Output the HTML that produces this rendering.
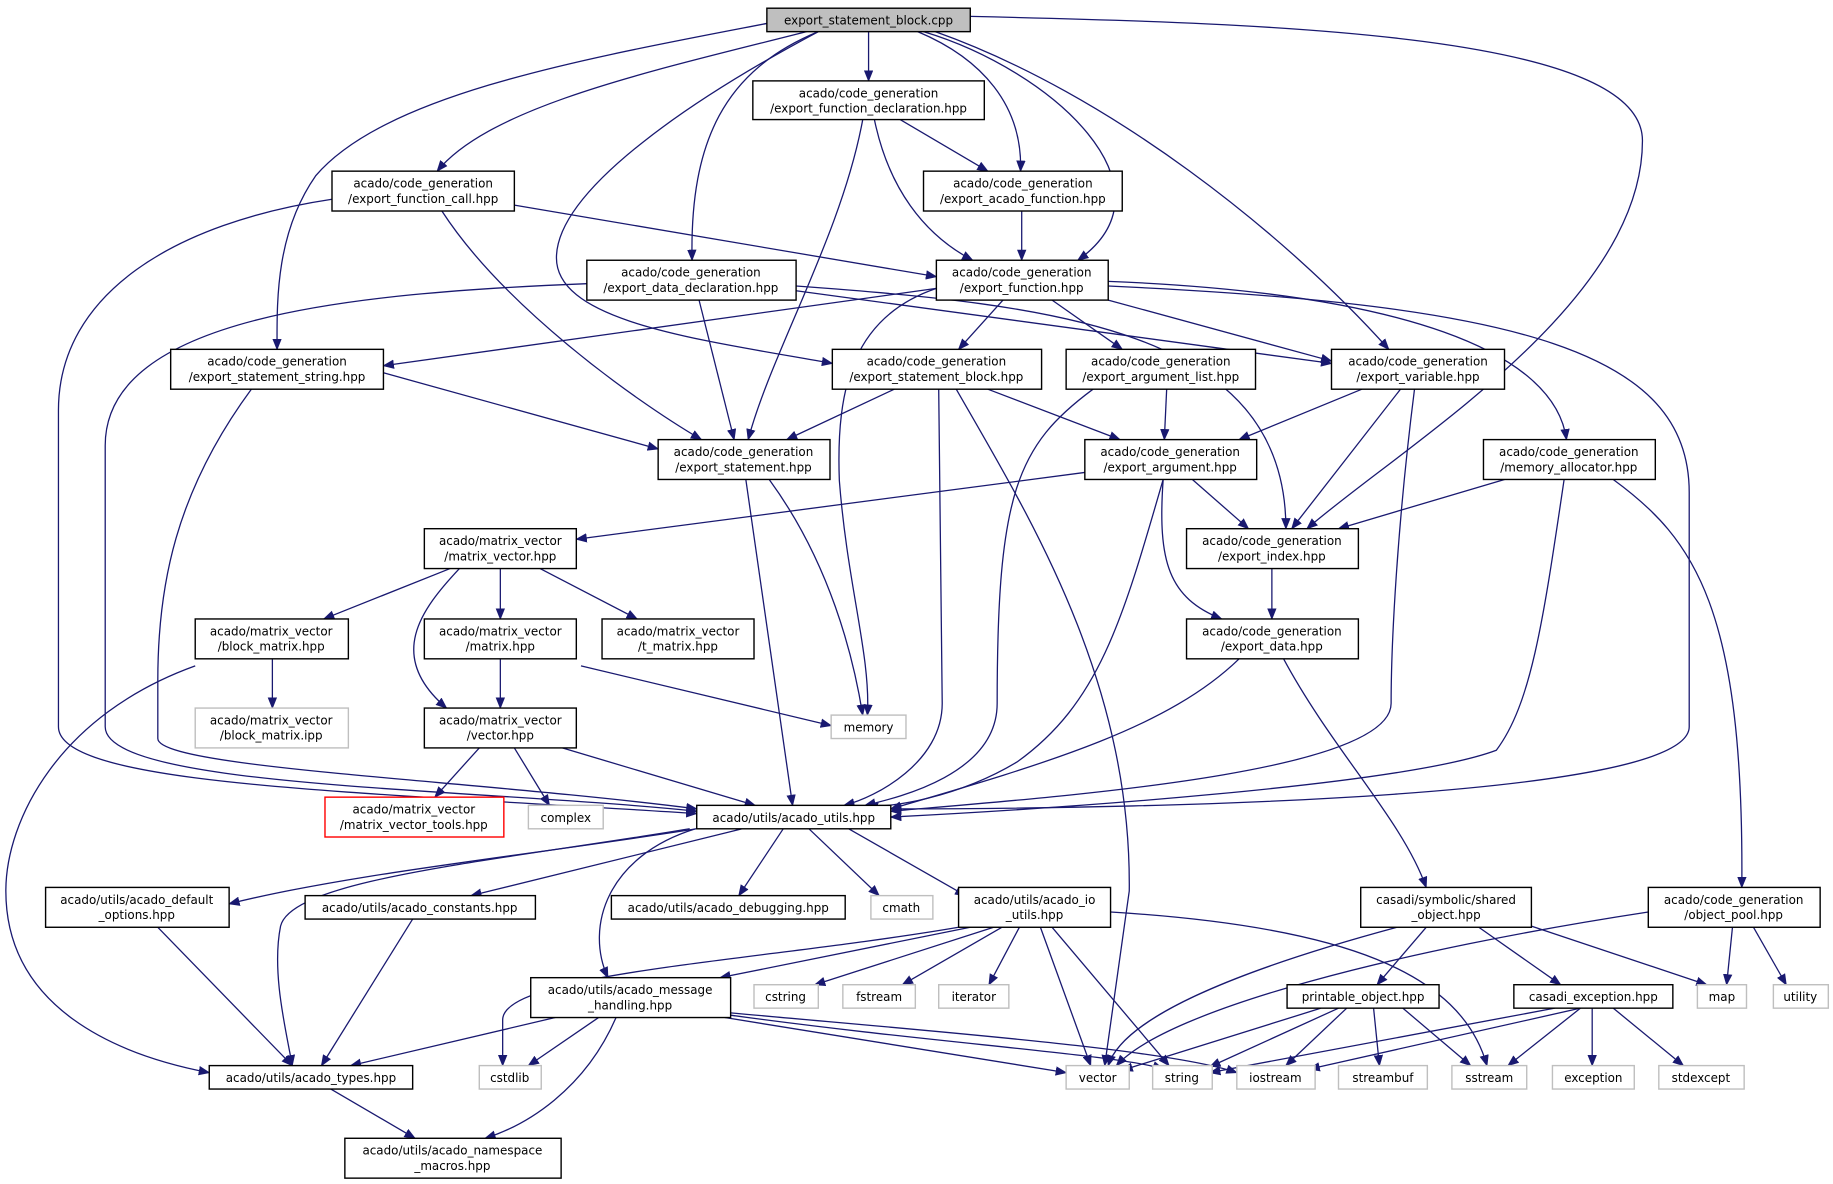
<!DOCTYPE html>
<html><head><meta charset="utf-8"><style>
html,body{margin:0;padding:0;background:#fff;}
svg{display:block;}
text{font-family:"DejaVu Sans","Liberation Sans",sans-serif;font-size:10.2px;fill:#000;text-anchor:middle;}
.e{fill:none;stroke:#191970;stroke-width:1.1;marker-end:url(#a);}
.n{fill:#fff;stroke:#000;stroke-width:1.2;}
.g{fill:#fff;stroke:#bfbfbf;stroke-width:1.2;}
</style></head><body>
<svg width="1833" height="1184" viewBox="0 0 1568 1010" preserveAspectRatio="none" xmlns="http://www.w3.org/2000/svg">
<defs><marker id="a" markerWidth="10" markerHeight="8" refX="9" refY="4" orient="auto" markerUnits="userSpaceOnUse"><path d="M0,0 L10,4 L0,8 z" fill="#191970"/></marker></defs>
<g>
<path class="e" d="M743,27 L743,69"/>
<path class="e" d="M785,27 C840,50 875,90 873,146"/>
<path class="e" d="M790,27 C900,60 1010,160 922,222"/>
<path class="e" d="M748,102 C760,160 790,200 832,222"/>
<path class="e" d="M800,27 C950,80 1100,200 1188,298"/>
<path class="e" d="M830,14 C1100,20 1405,30 1405,120 C1405,260 1200,380 1118,451"/>
<path class="e" d="M690,27 C560,60 420,90 374,146"/>
<path class="e" d="M656,20 C500,50 330,80 270,150 C235,200 237,260 237,298"/>
<path class="e" d="M700,27 C620,60 590,120 592,222"/>
<path class="e" d="M700,27 C600,80 476,160 476,220 C476,275 600,290 712,310"/>
<path class="e" d="M770,102 L845,146"/>
<path class="e" d="M738,102 C720,200 660,300 640,375"/>
<path class="e" d="M440,175 L801,236"/>
<path class="e" d="M378,180 C430,260 540,340 600,375"/>
<path class="e" d="M874,180 L874,222"/>
<path class="e" d="M502,242 C300,250 90,270 90,380 L90,620 C90,672 400,672 596,692"/>
<path class="e" d="M598,256 L628,375"/>
<path class="e" d="M681,248 L1139,310"/>
<path class="e" d="M681,244 C900,260 1100,280 1100,451"/>
<path class="e" d="M801,246 L328,312"/>
<path class="e" d="M801,246 C730,270 715,330 718,410 C725,500 745,560 742,610"/>
<path class="e" d="M858,256 L820,298"/>
<path class="e" d="M900,256 L960,298"/>
<path class="e" d="M948,256 L1139,308"/>
<path class="e" d="M948,240 C1200,250 1330,300 1340,375"/>
<path class="e" d="M948,244 C1300,260 1445,300 1445,420 L1445,620 C1445,680 1000,690 762,690"/>
<path class="e" d="M328,318 L563,383"/>
<path class="e" d="M284,170 C150,190 50,250 50,350 L50,620 C50,670 300,675 596,694"/>
<path class="e" d="M215,332 C150,420 135,500 135,580 L135,630 C135,655 400,665 596,690"/>
<path class="e" d="M765,332 L673,375"/>
<path class="e" d="M845,332 L958,375"/>
<path class="e" d="M803,332 L806,600 C806,650 750,680 722,687"/>
<path class="e" d="M818,332 C880,440 968,580 966,760 L945,909"/>
<path class="e" d="M998,332 L996,375"/>
<path class="e" d="M935,332 C870,380 853,420 853,600 C853,660 770,680 740,687"/>
<path class="e" d="M1165,332 L1060,375"/>
<path class="e" d="M1198,332 L1105,451"/>
<path class="e" d="M1210,332 C1195,450 1190,550 1190,600 C1190,660 900,680 762,692"/>
<path class="e" d="M638,409 L678,687"/>
<path class="e" d="M658,409 C710,480 730,560 738,610"/>
<path class="e" d="M928,403 L493,460"/>
<path class="e" d="M1020,409 L1068,451"/>
<path class="e" d="M995,409 C990,480 1000,510 1045,528"/>
<path class="e" d="M995,409 C960,530 940,600 870,650 C820,680 760,690 742,687"/>
<path class="e" d="M1287,409 L1145,451"/>
<path class="e" d="M1338,409 C1320,530 1310,600 1280,640 C1200,670 900,690 762,697"/>
<path class="e" d="M1380,409 C1450,460 1492,520 1490,757"/>
<path class="e" d="M385,485 L277,528"/>
<path class="e" d="M428,485 L428,528"/>
<path class="e" d="M462,485 L545,528"/>
<path class="e" d="M393,485 C360,520 330,560 382,604"/>
<path class="e" d="M1088,485 L1088,528"/>
<path class="e" d="M233,562 L233,604"/>
<path class="e" d="M167,568 C50,610 5,700 5,760 C5,860 100,900 179,915"/>
<path class="e" d="M497,568 L711,619"/>
<path class="e" d="M428,562 L428,604"/>
<path class="e" d="M1060,562 C1000,620 900,650 762,690"/>
<path class="e" d="M1098,562 C1140,640 1200,700 1220,757"/>
<path class="e" d="M410,638 L372,680"/>
<path class="e" d="M440,638 L470,687"/>
<path class="e" d="M481,638 L646,687"/>
<path class="e" d="M596,707 C450,730 300,745 196,771"/>
<path class="e" d="M635,707 L403,764"/>
<path class="e" d="M670,707 L632,764"/>
<path class="e" d="M692,707 L752,764"/>
<path class="e" d="M726,707 L826,764"/>
<path class="e" d="M595,707 C520,730 500,790 520,834"/>
<path class="e" d="M590,707 C420,735 250,750 240,790 C232,830 245,880 250,909"/>
<path class="e" d="M135,791 L250,909"/>
<path class="e" d="M353,784 L275,909"/>
<path class="e" d="M830,791 L616,834"/>
<path class="e" d="M820,791 C650,820 430,830 430,870 L430,909"/>
<path class="e" d="M850,791 L697,840"/>
<path class="e" d="M857,791 L772,840"/>
<path class="e" d="M872,791 L846,840"/>
<path class="e" d="M890,791 L933,909"/>
<path class="e" d="M900,791 L1000,909"/>
<path class="e" d="M950,778 C1150,790 1250,830 1272,909"/>
<path class="e" d="M1195,791 C1050,830 960,870 948,909"/>
<path class="e" d="M1220,791 L1178,840"/>
<path class="e" d="M1265,791 L1335,840"/>
<path class="e" d="M1310,790 L1460,840"/>
<path class="e" d="M1410,778 C1200,810 1000,860 955,909"/>
<path class="e" d="M1482,791 L1477,840"/>
<path class="e" d="M1500,791 L1528,840"/>
<path class="e" d="M475,868 L300,909"/>
<path class="e" d="M512,868 L452,909"/>
<path class="e" d="M527,868 C500,930 450,960 415,971"/>
<path class="e" d="M620,868 L912,915"/>
<path class="e" d="M625,866 C800,890 960,900 995,912"/>
<path class="e" d="M625,864 C800,880 1000,895 1058,915"/>
<path class="e" d="M1130,860 L960,913"/>
<path class="e" d="M1145,860 L1035,910"/>
<path class="e" d="M1152,860 L1100,909"/>
<path class="e" d="M1175,860 L1180,909"/>
<path class="e" d="M1200,860 L1258,909"/>
<path class="e" d="M1330,860 L1035,915"/>
<path class="e" d="M1352,860 L1120,912"/>
<path class="e" d="M1352,860 L1290,909"/>
<path class="e" d="M1362,860 L1362,909"/>
<path class="e" d="M1380,860 L1440,909"/>
<path class="e" d="M283,929 L355,971"/>
</g>
<g>
<rect x="656" y="7" width="174" height="20" fill="#bfbfbf" stroke="#000" stroke-width="1.2"/><text x="743" y="21">export_statement_block.cpp</text>
<rect class="n" x="644" y="69" width="198" height="33"/><text x="743" y="83">acado/code_generation</text><text x="743" y="96">/export_function_declaration.hpp</text>
<rect class="n" x="284" y="146" width="156" height="34"/><text x="362" y="160">acado/code_generation</text><text x="362" y="173">/export_function_call.hpp</text>
<rect class="n" x="790" y="146" width="170" height="34"/><text x="875" y="160">acado/code_generation</text><text x="875" y="173">/export_acado_function.hpp</text>
<rect class="n" x="502" y="222" width="179" height="34"/><text x="591" y="236">acado/code_generation</text><text x="591" y="249">/export_data_declaration.hpp</text>
<rect class="n" x="801" y="222" width="147" height="34"/><text x="874" y="236">acado/code_generation</text><text x="874" y="249">/export_function.hpp</text>
<rect class="n" x="146" y="298" width="182" height="34"/><text x="237" y="312">acado/code_generation</text><text x="237" y="325">/export_statement_string.hpp</text>
<rect class="n" x="712" y="298" width="179" height="34"/><text x="801" y="312">acado/code_generation</text><text x="801" y="325">/export_statement_block.hpp</text>
<rect class="n" x="912" y="298" width="162" height="34"/><text x="993" y="312">acado/code_generation</text><text x="993" y="325">/export_argument_list.hpp</text>
<rect class="n" x="1139" y="298" width="148" height="34"/><text x="1213" y="312">acado/code_generation</text><text x="1213" y="325">/export_variable.hpp</text>
<rect class="n" x="563" y="375" width="147" height="34"/><text x="636" y="389">acado/code_generation</text><text x="636" y="402">/export_statement.hpp</text>
<rect class="n" x="928" y="375" width="147" height="34"/><text x="1001" y="389">acado/code_generation</text><text x="1001" y="402">/export_argument.hpp</text>
<rect class="n" x="1269" y="375" width="147" height="34"/><text x="1342" y="389">acado/code_generation</text><text x="1342" y="402">/memory_allocator.hpp</text>
<rect class="n" x="363" y="451" width="130" height="34"/><text x="428" y="465">acado/matrix_vector</text><text x="428" y="478">/matrix_vector.hpp</text>
<rect class="n" x="1015" y="451" width="147" height="34"/><text x="1088" y="465">acado/code_generation</text><text x="1088" y="478">/export_index.hpp</text>
<rect class="n" x="167" y="528" width="131" height="34"/><text x="232" y="542">acado/matrix_vector</text><text x="232" y="555">/block_matrix.hpp</text>
<rect class="n" x="363" y="528" width="130" height="34"/><text x="428" y="542">acado/matrix_vector</text><text x="428" y="555">/matrix.hpp</text>
<rect class="n" x="515" y="528" width="130" height="34"/><text x="580" y="542">acado/matrix_vector</text><text x="580" y="555">/t_matrix.hpp</text>
<rect class="n" x="1015" y="528" width="147" height="34"/><text x="1088" y="542">acado/code_generation</text><text x="1088" y="555">/export_data.hpp</text>
<rect class="g" x="167" y="604" width="131" height="34"/><text x="232" y="618">acado/matrix_vector</text><text x="232" y="631">/block_matrix.ipp</text>
<rect class="n" x="363" y="604" width="130" height="34"/><text x="428" y="618">acado/matrix_vector</text><text x="428" y="631">/vector.hpp</text>
<rect class="g" x="711" y="610" width="64" height="20"/><text x="743" y="624">memory</text>
<rect x="278" y="680" width="153" height="34" fill="#fff" stroke="#ff0000" stroke-width="1.2"/><text x="354" y="694">acado/matrix_vector</text><text x="354" y="707">/matrix_vector_tools.hpp</text>
<rect class="g" x="452" y="687" width="64" height="20"/><text x="484" y="701">complex</text>
<rect class="n" x="596" y="687" width="166" height="20"/><text x="679" y="701">acado/utils/acado_utils.hpp</text>
<rect class="n" x="39" y="757" width="157" height="34"/><text x="117" y="771">acado/utils/acado_default</text><text x="117" y="784">_options.hpp</text>
<rect class="n" x="261" y="764" width="197" height="20"/><text x="359" y="778">acado/utils/acado_constants.hpp</text>
<rect class="n" x="523" y="764" width="200" height="20"/><text x="623" y="778">acado/utils/acado_debugging.hpp</text>
<rect class="g" x="745" y="764" width="53" height="20"/><text x="771" y="778">cmath</text>
<rect class="n" x="820" y="757" width="130" height="34"/><text x="885" y="771">acado/utils/acado_io</text><text x="885" y="784">_utils.hpp</text>
<rect class="n" x="1164" y="757" width="146" height="34"/><text x="1237" y="771">casadi/symbolic/shared</text><text x="1237" y="784">_object.hpp</text>
<rect class="n" x="1410" y="757" width="147" height="34"/><text x="1483" y="771">acado/code_generation</text><text x="1483" y="784">/object_pool.hpp</text>
<rect class="n" x="454" y="834" width="171" height="34"/><text x="539" y="848">acado/utils/acado_message</text><text x="539" y="861">_handling.hpp</text>
<rect class="g" x="645" y="840" width="55" height="20"/><text x="672" y="854">cstring</text>
<rect class="g" x="721" y="840" width="62" height="20"/><text x="752" y="854">fstream</text>
<rect class="g" x="803" y="840" width="60" height="20"/><text x="833" y="854">iterator</text>
<rect class="n" x="1101" y="840" width="130" height="20"/><text x="1166" y="854">printable_object.hpp</text>
<rect class="n" x="1295" y="840" width="136" height="20"/><text x="1363" y="854">casadi_exception.hpp</text>
<rect class="g" x="1452" y="840" width="42" height="20"/><text x="1473" y="854">map</text>
<rect class="g" x="1517" y="840" width="47" height="20"/><text x="1540" y="854">utility</text>
<rect class="n" x="179" y="909" width="174" height="20"/><text x="266" y="923">acado/utils/acado_types.hpp</text>
<rect class="g" x="410" y="909" width="53" height="20"/><text x="436" y="923">cstdlib</text>
<rect class="g" x="912" y="909" width="54" height="20"/><text x="939" y="923">vector</text>
<rect class="g" x="986" y="909" width="51" height="20"/><text x="1011" y="923">string</text>
<rect class="g" x="1058" y="909" width="67" height="20"/><text x="1091" y="923">iostream</text>
<rect class="g" x="1145" y="909" width="76" height="20"/><text x="1183" y="923">streambuf</text>
<rect class="g" x="1242" y="909" width="64" height="20"/><text x="1274" y="923">sstream</text>
<rect class="g" x="1328" y="909" width="70" height="20"/><text x="1363" y="923">exception</text>
<rect class="g" x="1419" y="909" width="73" height="20"/><text x="1455" y="923">stdexcept</text>
<rect class="n" x="295" y="971" width="185" height="34"/><text x="387" y="985">acado/utils/acado_namespace</text><text x="387" y="998">_macros.hpp</text>
</g>
</svg>
</body></html>
